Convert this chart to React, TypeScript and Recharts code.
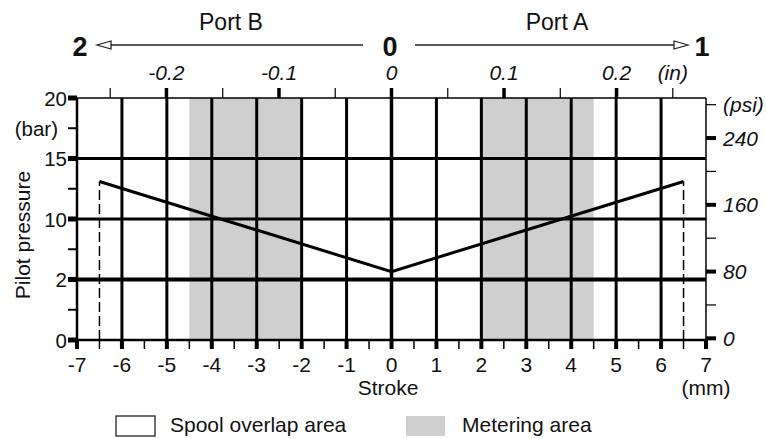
import { ComposedChart, Line, XAxis, YAxis, ReferenceLine, ReferenceArea } from 'recharts';

// stroke (mm) vs pilot pressure (bar)
const strokeMm = [-6.5, 0, 6.5];
const pilotBar = [13.1, 5.65, 13.1];

// metering bands (mm)
const meteringBands = [
  [-4.5, -2],
  [2, 4.5],
];

const mmTicks = [-7, -6.5, -6, -5.5, -5, -4.5, -4, -3.5, -3, -2.5, -2, -1.5, -1, -0.5, 0, 0.5, 1, 1.5, 2, 2.5, 3, 3.5, 4, 4.5, 5, 5.5, 6, 6.5, 7];
const mmGrid = [-6, -5, -4, -3, -2, -1, 0, 1, 2, 3, 4, 5, 6];
const inchTicks = [-0.25, -0.2, -0.15, -0.1, -0.05, 0, 0.05, 0.1, 0.15, 0.2, 0.25];
const inchLabels: Record<string, string> = { '-0.2': '-0.2', '-0.1': '-0.1', '0': '0', '0.1': '0.1', '0.2': '0.2', '0.25': '(in)' };
const barTicks = [0, 2.5, 5, 7.5, 10, 12.5, 15, 17.5, 20];
const barLabels: Record<string, string> = { '0': '0', '5': '2', '10': '10', '15': '15', '20': '20', '17.5': '(bar)' };
const barGrid = [5, 10, 15];
const psiTicks = [0, 40, 80, 120, 160, 200, 240, 280];
const psiLabels: Record<string, string> = { '0': '0', '80': '80', '160': '160', '240': '240', '280': '(psi)' };

const chartData = strokeMm.map((x, i) => ({ x, xin: x / 25.4, p: pilotBar[i] }));

const FONT = '"Liberation Sans", Arial, sans-serif';

const BottomTick = (props: any) => {
  const { x, y, payload } = props;
  const v = payload.value;
  const major = Number.isInteger(v);
  return (
    <g>
      <line x1={x} x2={x} y1={y} y2={y + 9} stroke="#000" strokeWidth={major ? 4 : 1.5} />
      {major && (
        <text x={x} y={y + 32} textAnchor="middle" fontSize={21} fill="#111">
          {String(v)}
        </text>
      )}
    </g>
  );
};

const TopTick = (props: any) => {
  const { x, y, payload } = props;
  const v = Math.round(payload.value * 100) / 100;
  const label = inchLabels[String(v)];
  const major = label !== undefined && label !== '(in)';
  return (
    <g>
      <line x1={x} x2={x} y1={y} y2={y - 10} stroke="#000" strokeWidth={major ? 3.5 : 1.2} />
      {label && (
        <text x={x} y={y - 18} textAnchor="middle" fontSize={21} fontStyle="italic" fill="#111">
          {label}
        </text>
      )}
    </g>
  );
};

const LeftTick = (props: any) => {
  const { x, y, payload } = props;
  const label = barLabels[String(payload.value)];
  const major = label !== undefined && label !== '(bar)';
  return (
    <g>
      <line x1={x} x2={x - 9} y1={y} y2={y} stroke="#000" strokeWidth={major ? 5 : 2} />
      {label && (
        <text x={major ? x - 10 : x - 19} y={y + 7.5} textAnchor="end" fontSize={20.5} fill="#111">
          {label}
        </text>
      )}
    </g>
  );
};

const RightTick = (props: any) => {
  const { x, y, payload } = props;
  const label = psiLabels[String(payload.value)];
  const major = label !== undefined && label !== '(psi)';
  return (
    <g>
      <line x1={x} x2={x + 10} y1={y} y2={y} stroke="#000" strokeWidth={major ? 4 : 1.2} />
      {label && (
        <text x={x + 17} y={y + 7.5} textAnchor="start" fontSize={21} fontStyle="italic" fill="#111">
          {label}
        </text>
      )}
    </g>
  );
};

function Overlay() {
  return (
    <svg width={766} height={439} style={{ position: 'absolute', left: 0, top: 0, pointerEvents: 'none', fontFamily: FONT }}>
      {/* header: ports and arrows */}
      <text x={231} y={30} textAnchor="middle" fontSize={23} fill="#111">Port B</text>
      <text x={557} y={30} textAnchor="middle" fontSize={23} fill="#111">Port A</text>
      <text x={80} y={56} textAnchor="middle" fontSize={27} fontWeight="bold" fill="#111">2</text>
      <text x={390} y={56} textAnchor="middle" fontSize={27} fontWeight="bold" fill="#111">0</text>
      <text x={702} y={56} textAnchor="middle" fontSize={27} fontWeight="bold" fill="#111">1</text>
      <line x1={111} x2={363} y1={45} y2={45} stroke="#222" strokeWidth={1.5} />
      <polygon points="97,45 111,41 111,49" fill="#fff" stroke="#222" strokeWidth={1.3} />
      <line x1={415} x2={674} y1={45} y2={45} stroke="#222" strokeWidth={1.5} />
      <polygon points="688,45 674,41 674,49" fill="#fff" stroke="#222" strokeWidth={1.3} />

      {/* axis titles */}
      <text x={0} y={0} transform="translate(30,235) rotate(-90)" textAnchor="middle" fontSize={21} fill="#111">
        Pilot pressure
      </text>
      <text x={388} y={395} textAnchor="middle" fontSize={21} fill="#111">Stroke</text>
      <text x={706} y={395} textAnchor="middle" fontSize={21} fill="#111">(mm)</text>

      {/* legend */}
      <rect x={116} y={416} width={39} height={20} fill="#fff" stroke="#222" strokeWidth={1.3} />
      <text x={170} y={432} fontSize={21} fill="#111">Spool overlap area</text>
      <rect x={406} y={416} width={39} height={20} fill="#cfcfcf" />
      <text x={462} y={432} fontSize={21} fill="#111">Metering area</text>
    </svg>
  );
}

export default function App() {
  return (
    <div style={{ position: 'absolute', left: 0, top: 0, width: 766, height: 439, background: '#fff', fontFamily: FONT }}>
      <ComposedChart width={766} height={439} data={chartData} margin={{ top: 68, right: 0, bottom: 59, left: 0 }}>
        <XAxis
          dataKey="x"
          type="number"
          domain={[-7, 7]}
          ticks={mmTicks}
          interval={0}
          height={40}
          tickSize={0}
          tickMargin={0}
          tickLine={false}
          axisLine={{ stroke: '#000', strokeWidth: 2.5 }}
          tick={<BottomTick />}
          allowDataOverflow
        />
        <XAxis
          xAxisId="in"
          dataKey="xin"
          orientation="top"
          type="number"
          domain={[-0.2795, 0.2795]}
          ticks={inchTicks}
          interval={0}
          height={30}
          tickSize={0}
          tickMargin={0}
          tickLine={false}
          axisLine={{ stroke: '#000', strokeWidth: 1.5 }}
          tick={<TopTick />}
          allowDataOverflow
        />
        <YAxis
          type="number"
          domain={[0, 20]}
          ticks={barTicks}
          interval={0}
          width={77}
          tickSize={0}
          tickMargin={0}
          tickLine={false}
          axisLine={{ stroke: '#000', strokeWidth: 2.5 }}
          tick={<LeftTick />}
          allowDataOverflow
        />
        <YAxis
          yAxisId="psi"
          orientation="right"
          type="number"
          domain={[-2, 288]}
          ticks={psiTicks}
          interval={0}
          width={60}
          tickSize={0}
          tickMargin={0}
          tickLine={false}
          axisLine={{ stroke: '#000', strokeWidth: 1.5 }}
          tick={<RightTick />}
          allowDataOverflow
        />

        {meteringBands.map(([a, b]) => (
          <ReferenceArea key={`band${a}`} x1={a} x2={b} y1={0} y2={20} fill="#cfcfcf" fillOpacity={1} stroke="none" />
        ))}
        {mmGrid.map((v) => (
          <ReferenceLine key={`vx${v}`} x={v} stroke="#000" strokeWidth={v === 0 ? 3.5 : 3} />
        ))}
        {barGrid.map((v) => (
          <ReferenceLine key={`hy${v}`} y={v} stroke="#000" strokeWidth={v === 5 ? 4 : 2.8} />
        ))}
        <ReferenceLine
          segment={[{ x: strokeMm[0], y: 0 }, { x: strokeMm[0], y: pilotBar[0] }]}
          stroke="#000"
          strokeWidth={1.5}
          strokeDasharray="10 4"
        />
        <ReferenceLine
          segment={[{ x: strokeMm[2], y: 0 }, { x: strokeMm[2], y: pilotBar[2] }]}
          stroke="#000"
          strokeWidth={1.5}
          strokeDasharray="10 4"
        />
        <Line
          dataKey="p"
          type="linear"
          stroke="#000"
          strokeWidth={3}
          dot={false}
          activeDot={false}
          isAnimationActive={false}
        />
      </ComposedChart>
      <Overlay />
    </div>
  );
}
